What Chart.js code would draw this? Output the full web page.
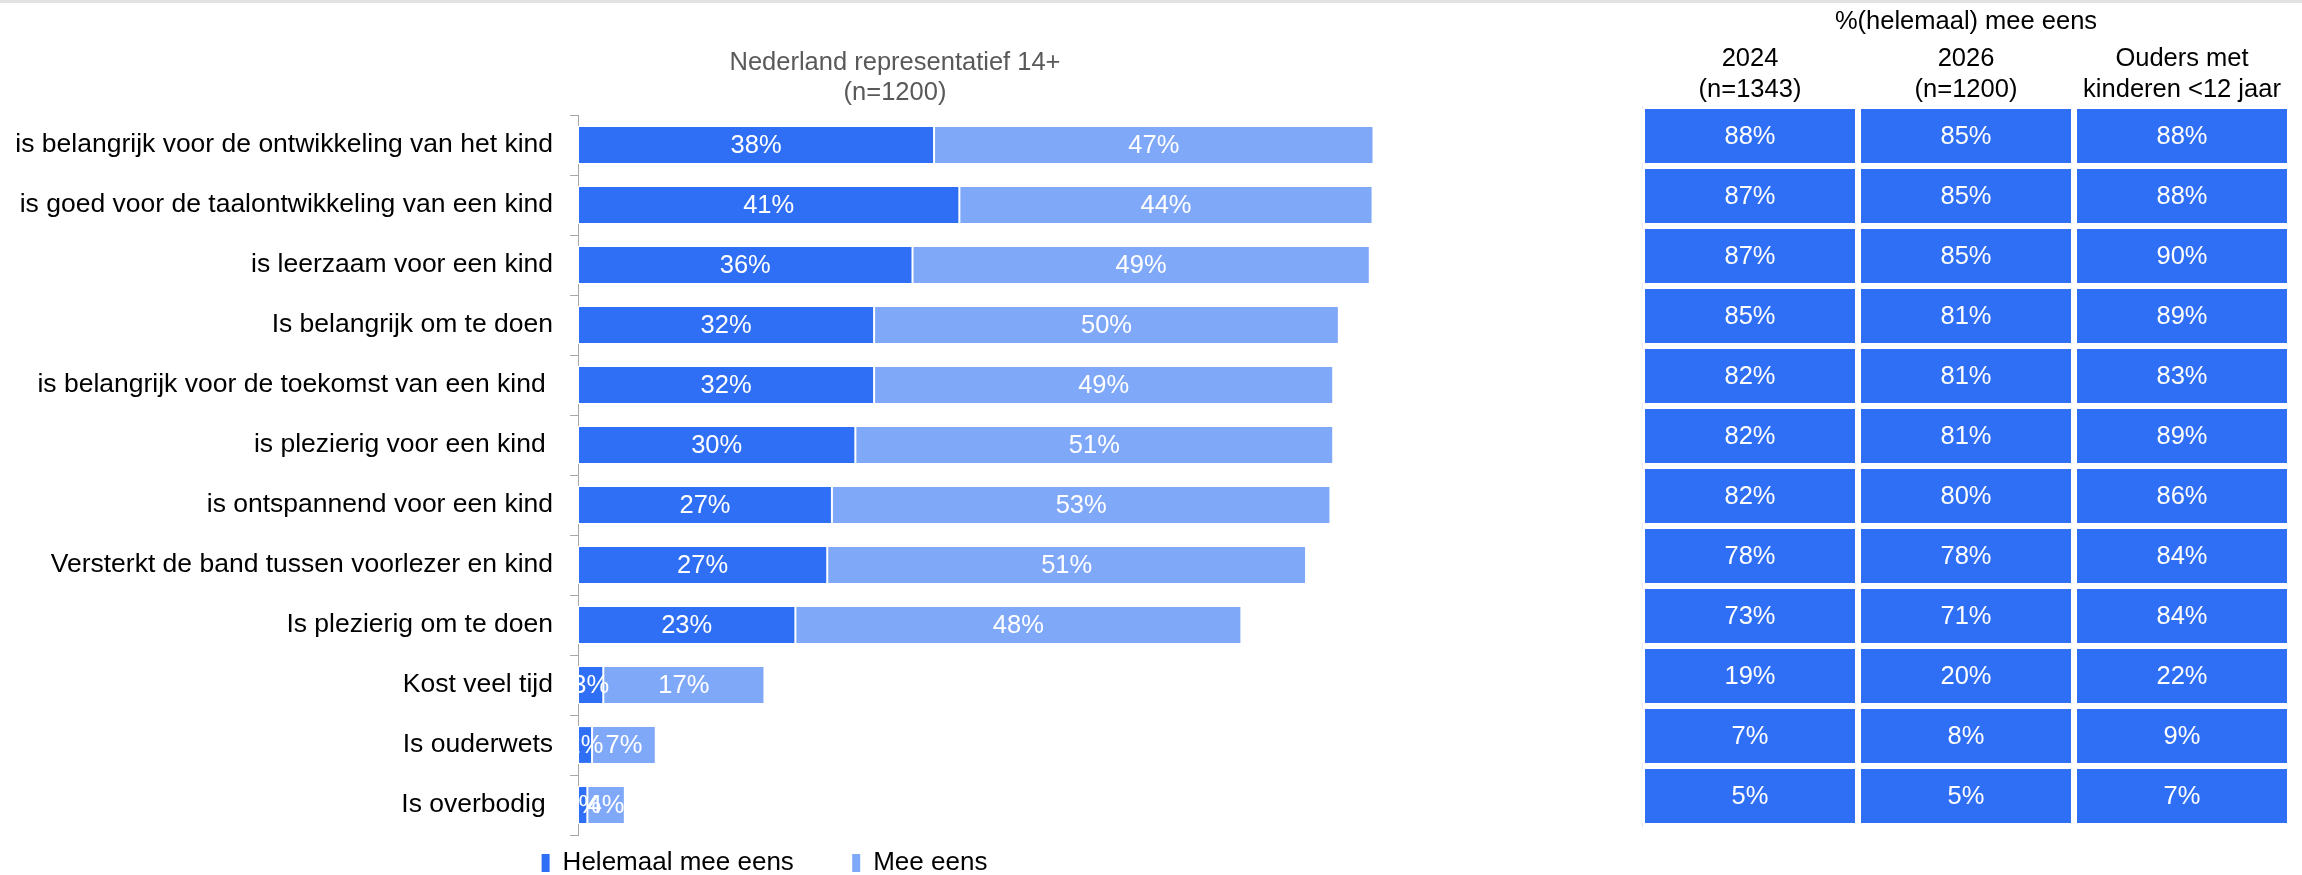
<!DOCTYPE html>
<html>
<head>
<meta charset="utf-8">
<script src="https://cdn.jsdelivr.net/npm/chart.js@4.4.1/dist/chart.umd.min.js"></script>
<style>
  html, body { margin: 0; padding: 0; background: #fff; }
  body { width: 2302px; height: 875px; position: relative; overflow: hidden; font-family: "Liberation Sans", Arial, sans-serif; }
  #topline { position: absolute; left: 0; top: 0; width: 2302px; height: 3px; background: #e2e2e2; }
  #title { position: absolute; left: 0; top: 46px; width: 1790px; text-align: center; font-size: 25.5px; line-height: 30px; color: #595959; }
  #left { position: absolute; left: 0; top: 0; width: 1664px; height: 875px; }
  #right { position: absolute; left: 1600px; top: 0; width: 702px; height: 875px; }
</style>
</head>
<body>
<div id="topline"></div>
<div id="left"><canvas id="barChart"></canvas></div>
<div id="right"><canvas id="tableChart"></canvas></div>
<div id="title">Nederland representatief 14+<br>(n=1200)</div>
<script>
// statements about voorlezen
const categories = [
  'is belangrijk voor de ontwikkeling van het kind',
  'is goed voor de taalontwikkeling van een kind',
  'is leerzaam voor een kind',
  'Is belangrijk om te doen',
  'is belangrijk voor de toekomst van een kind ',
  'is plezierig voor een kind ',
  'is ontspannend voor een kind',
  'Versterkt de band tussen voorlezer en kind',
  'Is plezierig om te doen',
  'Kost veel tijd',
  'Is ouderwets',
  'Is overbodig '
]
const helemaalMeeEens = [38, 40.7, 35.7, 31.6, 31.6, 29.6, 27.1, 26.6, 23.2, 2.7, 1.5, 1]
const meeEens = [46.9, 44.1, 48.8, 49.6, 49.0, 51.0, 53.2, 51.1, 47.6, 17.2, 6.8, 4]

// table: % (helemaal) mee eens
const tableTitle = '%(helemaal) mee eens'
const tableHeaders = [['2024', '(n=1343)'], ['2026', '(n=1200)'], ['Ouders met', 'kinderen <12 jaar']]
const col2024 = [88, 87, 87, 85, 82, 82, 82, 78, 73, 19, 7, 5]
const col2026 = [85, 85, 85, 81, 81, 81, 80, 78, 71, 20, 8, 5]
const colOuders = [88, 88, 90, 89, 83, 89, 86, 84, 84, 22, 9, 7]

const darkBlue = '#2f6ff5'
const lightBlue = '#80a8f9'
const pct = v => Math.round(v) + '%'

Chart.defaults.font.family = '"Liberation Sans", Arial, sans-serif'
Chart.defaults.color = '#000'

// draws the value text in the middle of every bar, clipped to the plot area
const barLabels = {
  id: 'barLabels',
  afterDatasetsDraw(chart, args, opts) {
    const ctx = chart.ctx
    const a = chart.chartArea
    ctx.save()
    ctx.beginPath()
    ctx.rect(a.left, a.top, a.right - a.left, a.bottom - a.top)
    ctx.clip()
    ctx.font = opts.font
    ctx.fillStyle = opts.color
    ctx.textAlign = 'center'
    ctx.textBaseline = 'middle'
    chart.data.datasets.forEach((ds, i) => {
      chart.getDatasetMeta(i).data.forEach((bar, j) => {
        const p = bar.getCenterPoint()
        ctx.fillText(opts.texts[i][j], p.x, p.y + 1)
      })
    })
    ctx.restore()
  }
}

new Chart(document.getElementById('barChart').getContext('2d'), {
  type: 'bar',
  data: {
    labels: categories,
    datasets: [{
      label: 'Helemaal mee eens',
      data: helemaalMeeEens,
      backgroundColor: darkBlue,
      borderColor: '#ffffff',
      borderWidth: 1,
      borderSkipped: false,
      barPercentage: 0.63,
      categoryPercentage: 1
    }, {
      label: 'Mee eens',
      data: meeEens,
      backgroundColor: lightBlue,
      borderColor: '#ffffff',
      borderWidth: 1,
      borderSkipped: false,
      barPercentage: 0.63,
      categoryPercentage: 1
    }]
  },
  options: {
    indexAxis: 'y',
    responsive: true,
    maintainAspectRatio: false,
    animation: false,
    layout: { padding: { left: 14, top: 115, right: 149, bottom: 0 } },
    scales: {
      x: { stacked: true, display: false, min: 0, max: 100 },
      y: {
        stacked: true,
        afterFit: s => { s.width = 564 },
        border: { display: true, color: '#a6a6a6', width: 1 },
        grid: { drawOnChartArea: false, drawTicks: true, tickLength: 8, color: '#a6a6a6', offset: true },
        ticks: { autoSkip: false, padding: 17, color: '#000', font: { size: 26.5 } }
      }
    },
    plugins: {
      tooltip: { enabled: false },
      legend: {
        position: 'bottom',
        maxHeight: 40,
        labels: {
          boxWidth: 8,
          boxHeight: 18,
          padding: 15,
          color: '#000',
          font: { size: 26 },
          generateLabels: chart => Chart.defaults.plugins.legend.labels.generateLabels(chart).map((l, i) => ({
            ...l,
            lineWidth: 0,
            text: i === 0 ? l.text + '      ' : l.text
          }))
        }
      },
      barLabels: {
        font: '25.5px "Liberation Sans", Arial, sans-serif',
        color: '#ffffff',
        texts: [helemaalMeeEens.map(pct), meeEens.map(pct)]
      }
    }
  },
  plugins: [barLabels]
})

// the table is a stacked bar chart with one equal cell per column
const cell = categories.map(() => 1)
const cellStyle = {
  backgroundColor: darkBlue,
  borderColor: '#ffffff',
  borderWidth: { left: 3, right: 3, top: 0, bottom: 0 },
  borderSkipped: false,
  barPercentage: 0.9,
  categoryPercentage: 1
}

new Chart(document.getElementById('tableChart').getContext('2d'), {
  type: 'bar',
  data: {
    labels: categories,
    datasets: [
      { label: '2024', data: cell, ...cellStyle },
      { label: '2026', data: cell, ...cellStyle },
      { label: 'Ouders', data: cell, ...cellStyle }
    ]
  },
  options: {
    indexAxis: 'y',
    responsive: true,
    maintainAspectRatio: false,
    animation: false,
    layout: { padding: { left: 0, top: 0, right: 12, bottom: 49 } },
    scales: {
      x: {
        stacked: true,
        position: 'top',
        min: 0,
        max: 3,
        afterFit: s => { s.height = 106 },
        afterBuildTicks: s => { s.ticks = [{ value: 0.5 }, { value: 1.5 }, { value: 2.5 }] },
        grid: { display: false },
        border: { display: false },
        title: {
          display: true,
          text: tableTitle,
          color: '#000',
          font: { size: 25.5, lineHeight: 1.2 },
          padding: { top: 7, bottom: 0 }
        },
        ticks: {
          autoSkip: false,
          maxRotation: 0,
          padding: -7,
          color: '#000',
          font: { size: 25.5, lineHeight: 1.2 },
          callback: (v, i) => tableHeaders[i]
        }
      },
      y: {
        stacked: true,
        afterFit: s => { s.width = 42 },
        grid: { display: false },
        border: { display: true, color: '#e4e6ee', width: 1 },
        ticks: { display: false }
      }
    },
    plugins: {
      tooltip: { enabled: false },
      legend: { display: false },
      barLabels: {
        font: '25.5px "Liberation Sans", Arial, sans-serif',
        color: '#ffffff',
        texts: [col2024.map(pct), col2026.map(pct), colOuders.map(pct)]
      }
    }
  },
  plugins: [barLabels]
})
</script>
</body>
</html>
